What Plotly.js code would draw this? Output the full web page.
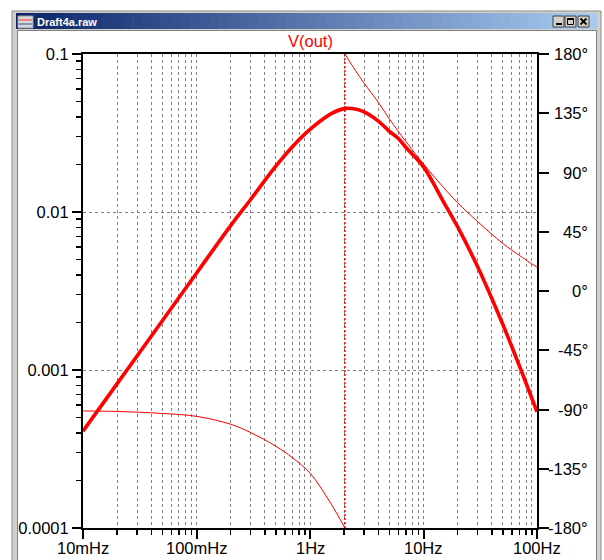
<!DOCTYPE html>
<html>
<head>
<meta charset="utf-8">
<script src="https://cdn.plot.ly/plotly-3.0.1.min.js"></script>
<style>
  html, body { margin: 0; padding: 0; background: #ffffff; }
  #chart { width: 604px; height: 560px; }
</style>
</head>
<body>
<div id="chart"></div>
<script>
// ---- data ----
const freqMag = [0.01, 0.02, 0.05, 0.1, 0.2, 0.3, 0.5, 0.7, 1, 1.5, 2, 2.5, 3, 4, 5, 6, 7, 10, 15, 20, 30, 50, 70, 100];
const magOut  = [0.00041, 0.00082, 0.00205, 0.0041, 0.0082, 0.0120, 0.0195, 0.0259, 0.0333, 0.0415, 0.0451, 0.0449, 0.0430, 0.0376, 0.0324, 0.0292, 0.0256, 0.0193, 0.0116, 0.00804, 0.00450, 0.00194, 0.00106, 0.000544];

const freqPhaseLow = [0.01, 0.02, 0.05, 0.1, 0.2, 0.3, 0.5, 0.7, 1, 1.5, 2.03];
const phaseLow     = [-91.1, -91.5, -93.0, -95.2, -101.2, -107.5, -117.9, -126.6, -138.3, -160.3, -180];

const freqPhaseHigh = [2.03, 2.5, 3, 4, 5, 7, 10, 15, 20, 30, 50, 70, 100];
const phaseHigh     = [180, 167.8, 157.8, 143.3, 130.7, 113.5, 96.5, 78.7, 67.0, 52.7, 36.1, 27.0, 18.0];

const wrapFreq  = [2.03, 2.03];
const wrapPhase = [-180, 180];

const xTickVals = [0.01, 0.1, 1, 10, 100];
const xTickText = ['10mHz', '100mHz', '1Hz', '10Hz', '100Hz'];
const yTickVals = [0.0001, 0.001, 0.01, 0.1];
const yTickText = ['0.0001', '0.001', '0.01', '0.1'];
const y2TickVals = [-180, -135, -90, -45, 0, 45, 90, 135, 180];
const y2TickText = ['-180°', '-135°', '-90°', '-45°', '0°', '45°', '90°', '135°', '180°'];
const traceName = 'V(out)';
const windowTitle = 'Draft4a.raw';

// ---- minor tick positions (axis decoration) ----
function minorLog(d0, d1) {
  const v = [];
  for (let d = d0; d < d1; d++) for (let k = 2; k <= 9; k++) v.push(k * Math.pow(10, d));
  return v;
}
const xMinor = minorLog(-2, 2);
const yMinor = minorLog(-4, -1);

// ---- geometry helpers (pixel -> paper) ----
const ML = 83, MT = 54, PW = 454, PH = 474;
const X = p => (p - ML) / PW;
const Y = p => (MT + PH - p) / PH;
function rectPx(x0, y0, x1, y1, fill, lineColor, lw) {
  return { type: 'rect', xref: 'paper', yref: 'paper', layer: 'below',
    x0: X(x0), x1: X(x1), y0: Y(y1), y1: Y(y0),
    fillcolor: fill, line: { color: lineColor || fill, width: lw || 0 } };
}
function linePx(x0, y0, x1, y1, color, lw) {
  return { type: 'line', xref: 'paper', yref: 'paper', layer: 'below',
    x0: X(x0), x1: X(x1), y0: Y(y0), y1: Y(y1), line: { color: color, width: lw } };
}

const shapes = [];
shapes.push(rectPx(12, 11, 601, 620, '#d4d0c8', '#8a8a8a', 1));
// title bar gradient
const c0 = [10, 36, 106], c1 = [166, 202, 240];
const tbX0 = 16, tbX1 = 597, N = 60;
for (let i = 0; i < N; i++) {
  const t = i / (N - 1);
  const c = c0.map((a, j) => Math.round(a + (c1[j] - a) * t));
  const xa = tbX0 + (tbX1 - tbX0) * i / N, xb = tbX0 + (tbX1 - tbX0) * (i + 1) / N + 0.5;
  shapes.push(rectPx(xa, 13, xb, 29, `rgb(${c[0]},${c[1]},${c[2]})`));
}
shapes.push(rectPx(17.5, 30.5, 596.5, 620, '#ffffff', '#808080', 1));
// icon
shapes.push(rectPx(18, 16, 33, 28, '#d8d8d8', '#9a9a9a', 1));
shapes.push(linePx(19, 20, 32, 20, '#ff3030', 1));
shapes.push(linePx(19, 24, 32, 24, '#3050a0', 1));
// buttons
[[553, 564], [565, 576], [578, 589]].forEach(b => shapes.push(rectPx(b[0], 16, b[1], 27, '#d4d0c8', '#404040', 1)));
shapes.push(linePx(556, 24, 562, 24, '#000000', 2));
shapes.push(rectPx(567.5, 18.5, 573.5, 24.5, 'rgba(0,0,0,0)', '#000000', 1));
shapes.push(linePx(567.5, 19, 573.5, 19, '#000000', 2));
shapes.push(linePx(580.5, 18.5, 586.5, 24.5, '#000000', 1.8));
shapes.push(linePx(580.5, 24.5, 586.5, 18.5, '#000000', 1.8));

const FONT = 'Liberation Sans, Arial, sans-serif';
const annotations = [
  { text: traceName, xref: 'paper', yref: 'paper', x: 0.5, y: 1, xanchor: 'center', yanchor: 'bottom',
    yshift: 2, showarrow: false, font: { family: FONT, size: 16.5, color: '#ff0000' } },
  { text: '<b>' + windowTitle + '</b>', xref: 'paper', yref: 'paper', x: X(35), y: Y(21.5),
    xanchor: 'left', yanchor: 'middle', showarrow: false, font: { family: FONT, size: 11, color: '#ffffff' } }
];
y2TickVals.forEach((v, i) => annotations.push({
  text: y2TickText[i], xref: 'paper', yref: 'y2', x: X(590), y: v, xanchor: 'right', yanchor: 'middle',
  showarrow: false, font: { family: FONT, size: 16.5, color: '#000000' } }));
xTickVals.forEach((v, i) => annotations.push({
  text: xTickText[i], xref: 'x', yref: 'paper', x: Math.log10(v), y: Y(547.5), xanchor: 'center', yanchor: 'middle',
  showarrow: false, font: { family: FONT, size: 16.5, color: '#000000' } }));

const red = '#ff0000';
const traces = [
  { x: freqPhaseLow, y: phaseLow, yaxis: 'y2', type: 'scatter', mode: 'lines',
    line: { color: red, width: 1, shape: 'spline' }, hoverinfo: 'skip' },
  { x: freqPhaseHigh, y: phaseHigh, yaxis: 'y2', type: 'scatter', mode: 'lines',
    line: { color: red, width: 1, shape: 'spline' }, hoverinfo: 'skip' },
  { x: wrapFreq, y: wrapPhase, yaxis: 'y2', type: 'scatter', mode: 'lines',
    line: { color: red, width: 1.5, dash: '2px,2px' }, hoverinfo: 'skip' },
  { x: freqMag, y: magOut, yaxis: 'y', type: 'scatter', mode: 'lines', name: traceName,
    line: { color: red, width: 3.6, shape: 'spline' } }
];

const gridDash = '3px,3px';
const layout = {
  width: 604, height: 560,
  margin: { l: ML, r: 604 - ML - PW, t: MT, b: 560 - MT - PH, pad: 0 },
  paper_bgcolor: '#ffffff', plot_bgcolor: '#ffffff',
  showlegend: false,
  font: { family: FONT, size: 16.5, color: '#000000' },
  xaxis: {
    type: 'log', range: [-2, 2], autorange: false,
    tickmode: 'array', tickvals: xTickVals, ticktext: xTickText, showticklabels: false,
    ticks: 'outside', ticklen: 9, tickwidth: 2, tickcolor: '#000000',
    showline: true, linecolor: '#000000', linewidth: 2, mirror: true,
    showgrid: true, gridcolor: '#808080', gridwidth: 1, griddash: gridDash,
    zeroline: false,
    minor: { tickmode: 'array', tickvals: xMinor, ticks: 'outside', ticklen: 5, tickwidth: 1.5,
      tickcolor: '#000000', showgrid: true, gridcolor: '#808080', gridwidth: 1, griddash: gridDash }
  },
  yaxis: {
    type: 'log', range: [-4, -1], autorange: false,
    tickmode: 'array', tickvals: yTickVals, ticktext: yTickText,
    ticks: 'outside', ticklen: 9, tickwidth: 2, tickcolor: '#000000',
    showline: true, linecolor: '#000000', linewidth: 2, mirror: false,
    showgrid: true, gridcolor: '#808080', gridwidth: 1, griddash: gridDash,
    zeroline: false, tickfont: { family: FONT, size: 16.5, color: '#000000' },
    minor: { tickmode: 'array', tickvals: yMinor, ticks: 'outside', ticklen: 5, tickwidth: 1.5,
      tickcolor: '#000000', showgrid: false }
  },
  yaxis2: {
    overlaying: 'y', side: 'right', range: [-180, 180], autorange: false,
    tickmode: 'array', tickvals: y2TickVals, ticktext: y2TickText, showticklabels: false,
    ticks: 'outside', ticklen: 10, tickwidth: 2, tickcolor: '#000000',
    showline: true, linecolor: '#000000', linewidth: 2,
    showgrid: false, zeroline: false
  },
  shapes: shapes,
  annotations: annotations
};

Plotly.newPlot('chart', traces, layout, { displayModeBar: false, staticPlot: true });
</script>
</body>
</html>
